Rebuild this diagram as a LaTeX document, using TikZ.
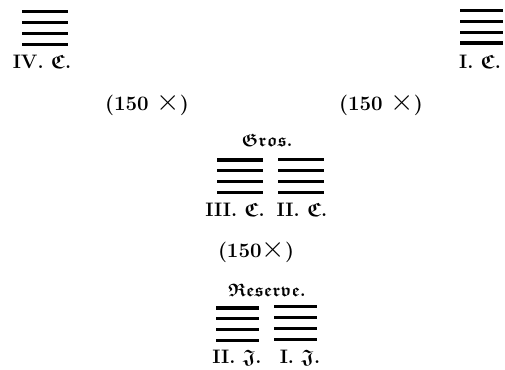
\documentclass[tikz,border=0pt]{standalone}
\usepackage{amsmath,amssymb}
\usepackage{fontspec}
\newcommand{\frk}[1]{$\boldsymbol{\mathfrak{#1}}$}
\newcommand{\mult}{\scalebox{1.45}{$\times$}}
\begin{document}
\begin{tikzpicture}[x=1pt,y=-1pt,
  bar/.style={line width=3.1pt},
  numlabel/.style={font=\fontsize{19.5}{22}\selectfont\bfseries, inner sep=0pt},
  headlabel/.style={font=\fontsize{18}{21}\selectfont, inner sep=0pt},
  countlabel/.style={font=\fontsize{20.5}{23}\selectfont\bfseries, inner sep=0pt}]
	\useasboundingbox (0,0) rectangle (505,369);
	\newcommand{\barsep}{10.9}
	% the six bodies of four ranks each
	\foreach 
	\name/\x/\y/\w/\lx/\ly/\num/\arm
	in
	{
		ivc/22/11.7/46/42/62/IV/C,
		ic/460/10.3/43/480/62/I/C,
		iiic/217/160/46/235/210/III/C,
		iic/278/159.5/46/302/210/II/C,
		iij/216/308/43/237/358/II/J,
		ij/274/306.5/43/300/358/I/J
	}
	{
		\foreach \k in {0,...,3}
		\draw [bar] (\x,\y+\k*\barsep) -- ++(\w,0);
		\node [numlabel] (\name) at (\lx,\ly) {\num. \frk{\arm}.};
	}
	\node [headlabel] (gros) at (267,140) {\frk{Gros.}};
	\node [headlabel] (reserve) at (267,290) {\frk{Reserve.}};
	\node [countlabel] (leftcount) at (147,104) {(150 \mult)};
	\node [countlabel] (rightcount) at (381,104) {(150 \mult)};
	\node [countlabel] (midcount) at (256,251) {(150\mult)};
\end{tikzpicture}
\end{document}
